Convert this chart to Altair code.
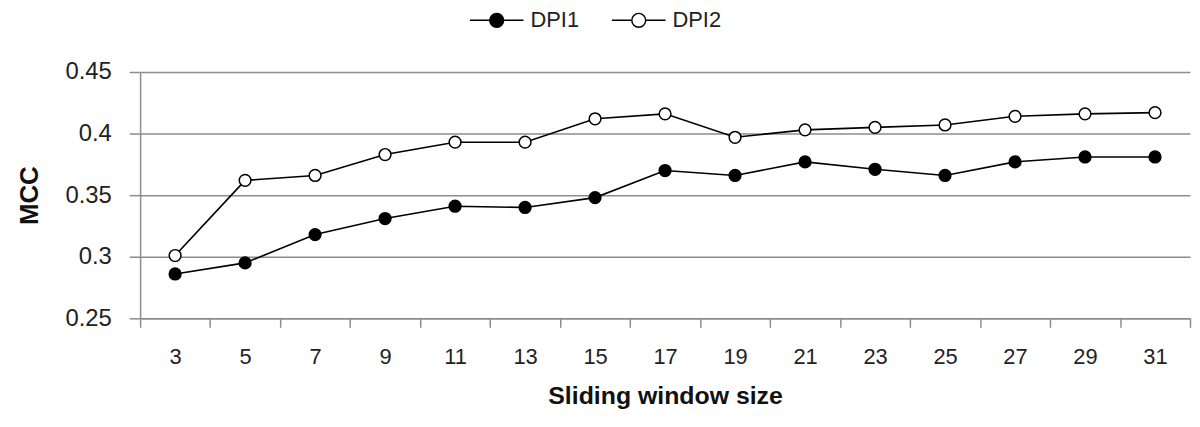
import altair as alt
import pandas as pd

windows = [3, 5, 7, 9, 11, 13, 15, 17, 19, 21, 23, 25, 27, 29, 31]
dpi1 = [0.286, 0.295, 0.318, 0.331, 0.341, 0.340, 0.348, 0.370, 0.366, 0.377, 0.371, 0.366, 0.377, 0.381, 0.381]
dpi2 = [0.301, 0.362, 0.366, 0.383, 0.393, 0.393, 0.412, 0.416, 0.397, 0.403, 0.405, 0.407, 0.414, 0.416, 0.417]
series_names = ["DPI1", "DPI2"]
y_ticks = [0.25, 0.30, 0.35, 0.40, 0.45]

rows = []
for name, vals in zip(series_names, [dpi1, dpi2]):
    for w, v in zip(windows, vals):
        rows.append({"w": str(w), "mcc": v, "series": name})
df = pd.DataFrame(rows)

FONT = "Liberation Sans"
GRAY = "#8c8c8c"
order = [str(w) for w in windows]

# legend symbol: a line with a circle in the middle (unit = 7px)
legend_path = ("M-3.86,0H-1M1,0H3.86M-1,0A1,1,0,1,0,1,0"
               "A1,1,0,1,0,-1,0Z")

x_enc = alt.X("w:O", sort=order,
              scale=alt.Scale(paddingInner=0, paddingOuter=0),
              axis=alt.Axis(title="Sliding window size", labelAngle=0, grid=False,
                            tickBand="extent", tickSize=9, tickWidth=1.5, tickColor=GRAY,
                            domainColor=GRAY, domainWidth=1.5,
                            labelFont=FONT, labelFontSize=22, labelColor="#222",
                            labelPadding=19,
                            titleFont=FONT, titleFontSize=25, titleFontWeight="bold",
                            titleColor="#111", titleY=86, titleBaseline="alphabetic"))
y_enc = alt.Y("mcc:Q",
              scale=alt.Scale(domain=[0.25, 0.45], nice=False, zero=False),
              axis=alt.Axis(title="MCC", values=y_ticks, format=".2~f",
                            grid=True, gridColor=GRAY, gridWidth=1.5,
                            tickSize=11, tickWidth=1.5, tickColor=GRAY,
                            domainColor=GRAY, domainWidth=1.5,
                            labelFont=FONT, labelFontSize=24, labelColor="#222",
                            labelPadding=18,
                            titleFont=FONT, titleFontSize=26, titleFontWeight="bold",
                            titleColor="#111", titleX=-111, titleY=124,
                            titleBaseline="middle", titleAngle=270))

lines = alt.Chart(df).mark_line(color="black", strokeWidth=1.6).encode(
    x=x_enc, y=y_enc, detail="series:N"
)

points = alt.Chart(df).mark_point(
    filled=True, shape="circle", size=140, stroke="black", strokeWidth=1.5, opacity=1
).encode(
    x=x_enc, y=y_enc,
    fill=alt.Fill("series:N",
                  scale=alt.Scale(domain=series_names, range=["black", "white"]),
                  legend=alt.Legend(title=None, orient="none", direction="horizontal",
                                    legendX=348, legendY=-63, padding=0,
                                    symbolType=legend_path, symbolSize=196,
                                    symbolStrokeColor="black", symbolStrokeWidth=1.5,
                                    symbolOpacity=1,
                                    labelFont=FONT, labelFontSize=22, labelColor="#222",
                                    labelOffset=23, columnPadding=29)),
)

chart = alt.layer(lines, points).properties(
    width=1057, height=248,
    autosize=alt.AutoSizeParams(type="none"),
    padding={"left": 133, "top": 63, "right": 2, "bottom": 108},
    background="white",
).configure_view(strokeWidth=0)

chart.save("out.html", embed_options={"renderer": "svg", "actions": False})
